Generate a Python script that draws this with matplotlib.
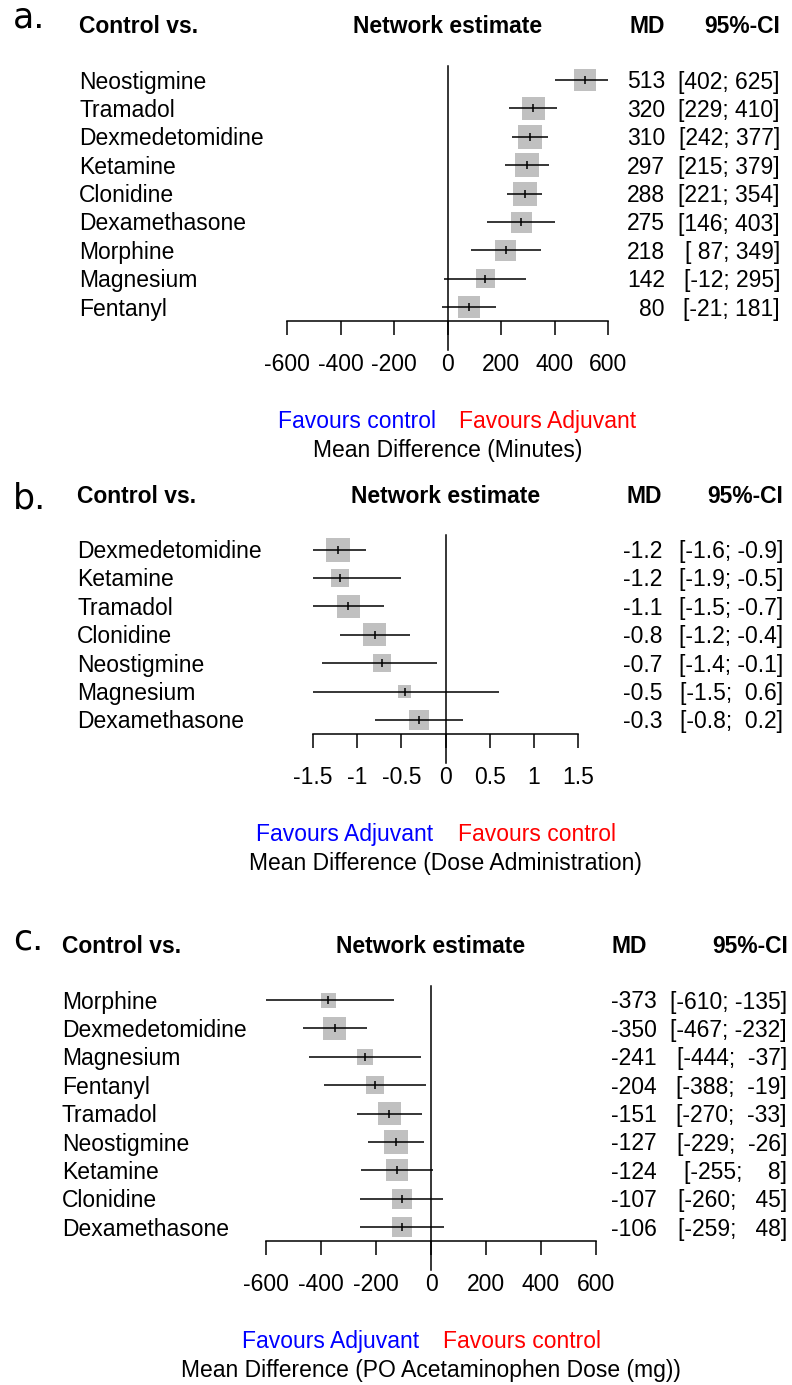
import matplotlib
matplotlib.use("Agg")
import matplotlib.pyplot as plt

plt.rcParams["font.family"] = ["Liberation Sans", "DejaVu Sans"]

W, H = 792, 1385
FS = 16.5

# a. Mean Difference (Minutes)
drugs_a = ["Neostigmine", "Tramadol", "Dexmedetomidine", "Ketamine", "Clonidine",
           "Dexamethasone", "Morphine", "Magnesium", "Fentanyl"]
md_a = [513, 320, 310, 297, 288, 275, 218, 142, 80]
lo_a = [402, 229, 242, 215, 221, 146, 87, -12, -21]
hi_a = [625, 410, 377, 379, 354, 403, 349, 295, 181]
wt_a = [22, 23, 24, 24, 24, 21, 21, 19, 22]  # square size ~ weight
ticks_a = [-600, -400, -200, 0, 200, 400, 600]
ticklab_a = ["-600", "-400", "-200", "0", "200", "400", "600"]

# b. Mean Difference (Dose Administration)
drugs_b = ["Dexmedetomidine", "Ketamine", "Tramadol", "Clonidine", "Neostigmine",
           "Magnesium", "Dexamethasone"]
md_b = [-1.22, -1.19, -1.10, -0.80, -0.72, -0.46, -0.30]
lo_b = [-1.6, -1.9, -1.5, -1.2, -1.4, -1.5, -0.8]
hi_b = [-0.9, -0.5, -0.7, -0.4, -0.1, 0.6, 0.2]
wt_b = [24, 18, 23, 23, 18, 13, 20]
ticks_b = [-1.5, -1, -0.5, 0, 0.5, 1, 1.5]
ticklab_b = ["-1.5", "-1", "-0.5", "0", "0.5", "1", "1.5"]

# c. Mean Difference (PO Acetaminophen Dose (mg))
drugs_c = ["Morphine", "Dexmedetomidine", "Magnesium", "Fentanyl", "Tramadol",
           "Neostigmine", "Ketamine", "Clonidine", "Dexamethasone"]
md_c = [-373, -350, -241, -204, -151, -127, -124, -107, -106]
lo_c = [-610, -467, -444, -388, -270, -229, -255, -260, -259]
hi_c = [-135, -232, -37, -19, -33, -26, 8, 45, 48]
wt_c = [15, 23, 16, 18, 23, 24, 22, 20, 20]
ticks_c = [-600, -400, -200, 0, 200, 400, 600]
ticklab_c = ["-600", "-400", "-200", "0", "200", "400", "600"]

fig = plt.figure(figsize=(W / 100, H / 100), dpi=100)


def txt(x, y, s, **kw):
    kw.setdefault("fontsize", FS)
    kw.setdefault("va", "baseline")
    fig.text(x / W, 1 - y / H, s, **kw)


def panel(letter, drugs, md, lo, hi, wt, ticks, ticklab, dec, w, left_lab, right_lab,
          xlabel, lay):
    n = len(drugs)
    sp = 28.4
    row0 = lay["row0"]
    x0, x1 = lay["x0"], lay["x1"]
    top = row0 - sp / 2
    bottom = row0 + (n - 0.5) * sp
    ax = fig.add_axes([x0 / W, 1 - bottom / H, (x1 - x0) / W, (bottom - top) / H])
    ax.set_xlim(ticks[0], ticks[-1])
    ax.set_ylim(n - 0.5, -0.5)
    ax.patch.set_visible(False)
    for s in ["top", "left", "right"]:
        ax.spines[s].set_visible(False)
    ax.spines["bottom"].set_linewidth(1.1)
    ax.set_yticks([])
    ax.set_xticks(ticks, ticklab)
    ax.tick_params(axis="x", length=10, width=1.1, pad=13, labelsize=FS)

    ys = list(range(n))
    ax.scatter(md, ys, s=[(v * 0.72) ** 2 for v in wt], marker="s", color="#c0c0c0",
               linewidths=0, zorder=2)
    ax.hlines(ys, lo, hi, color="black", lw=1.1, zorder=3)
    ax.plot(md, ys, ls="none", marker="|", ms=6, mew=1.1, color="black", zorder=4)
    ax.plot([0, 0], [-0.5, n + 0.5], color="black", lw=1.1, clip_on=False)

    zero = x0 + (0 - ticks[0]) / (ticks[-1] - ticks[0]) * (x1 - x0)
    hy = row0 - 47
    txt(13, hy + lay["ldy"], letter, fontsize=25, family="DejaVu Sans")
    txt(lay["lab_x"], hy, "Control vs.", fontweight="bold")
    txt(zero, hy, "Network estimate", fontweight="bold", ha="center")
    txt(lay["hmd_x"], hy, "MD", fontweight="bold", ha="right")
    txt(lay["hci_x"], hy, "95%-CI", fontweight="bold", ha="right")

    for i, d in enumerate(drugs):
        y = row0 + i * sp + 8.5
        txt(lay["lab_x"], y, d)
        txt(lay["md_x"], y, f"{md[i]:.{dec}f}", ha="right")
        txt(lay["ci_x"], y, f"[{lo[i]:>{w}.{dec}f}; {hi[i]:>{w}.{dec}f}]", ha="right")

    ay = bottom
    txt(zero - 12, ay + 107, left_lab, color="#0000ff", ha="right")
    txt(zero + 12, ay + 107, right_lab, color="#ff0000", ha="left")
    txt(zero, ay + 136, xlabel, ha="center")


panel("a.", drugs_a, md_a, lo_a, hi_a, wt_a, ticks_a, ticklab_a, 0, 3,
      "Favours control", "Favours Adjuvant", "Mean Difference (Minutes)",
      dict(row0=80, x0=287, x1=608, lab_x=79, md_x=665, ci_x=780, hmd_x=665,
           hci_x=780, ldy=-6))
panel("b.", drugs_b, md_b, lo_b, hi_b, wt_b, ticks_b, ticklab_b, 1, 4,
      "Favours Adjuvant", "Favours control", "Mean Difference (Dose Administration)",
      dict(row0=549.5, x0=313, x1=578, lab_x=77, md_x=662, ci_x=783, hmd_x=662,
           hci_x=783, ldy=6))
panel("c.", drugs_c, md_c, lo_c, hi_c, wt_c, ticks_c, ticklab_c, 0, 4,
      "Favours Adjuvant", "Favours control", "Mean Difference (PO Acetaminophen Dose (mg))",
      dict(row0=1000, x0=266, x1=596, lab_x=62, md_x=657, ci_x=787, hmd_x=647,
           hci_x=788, ldy=-4))

fig.savefig("out.png", dpi=100)
